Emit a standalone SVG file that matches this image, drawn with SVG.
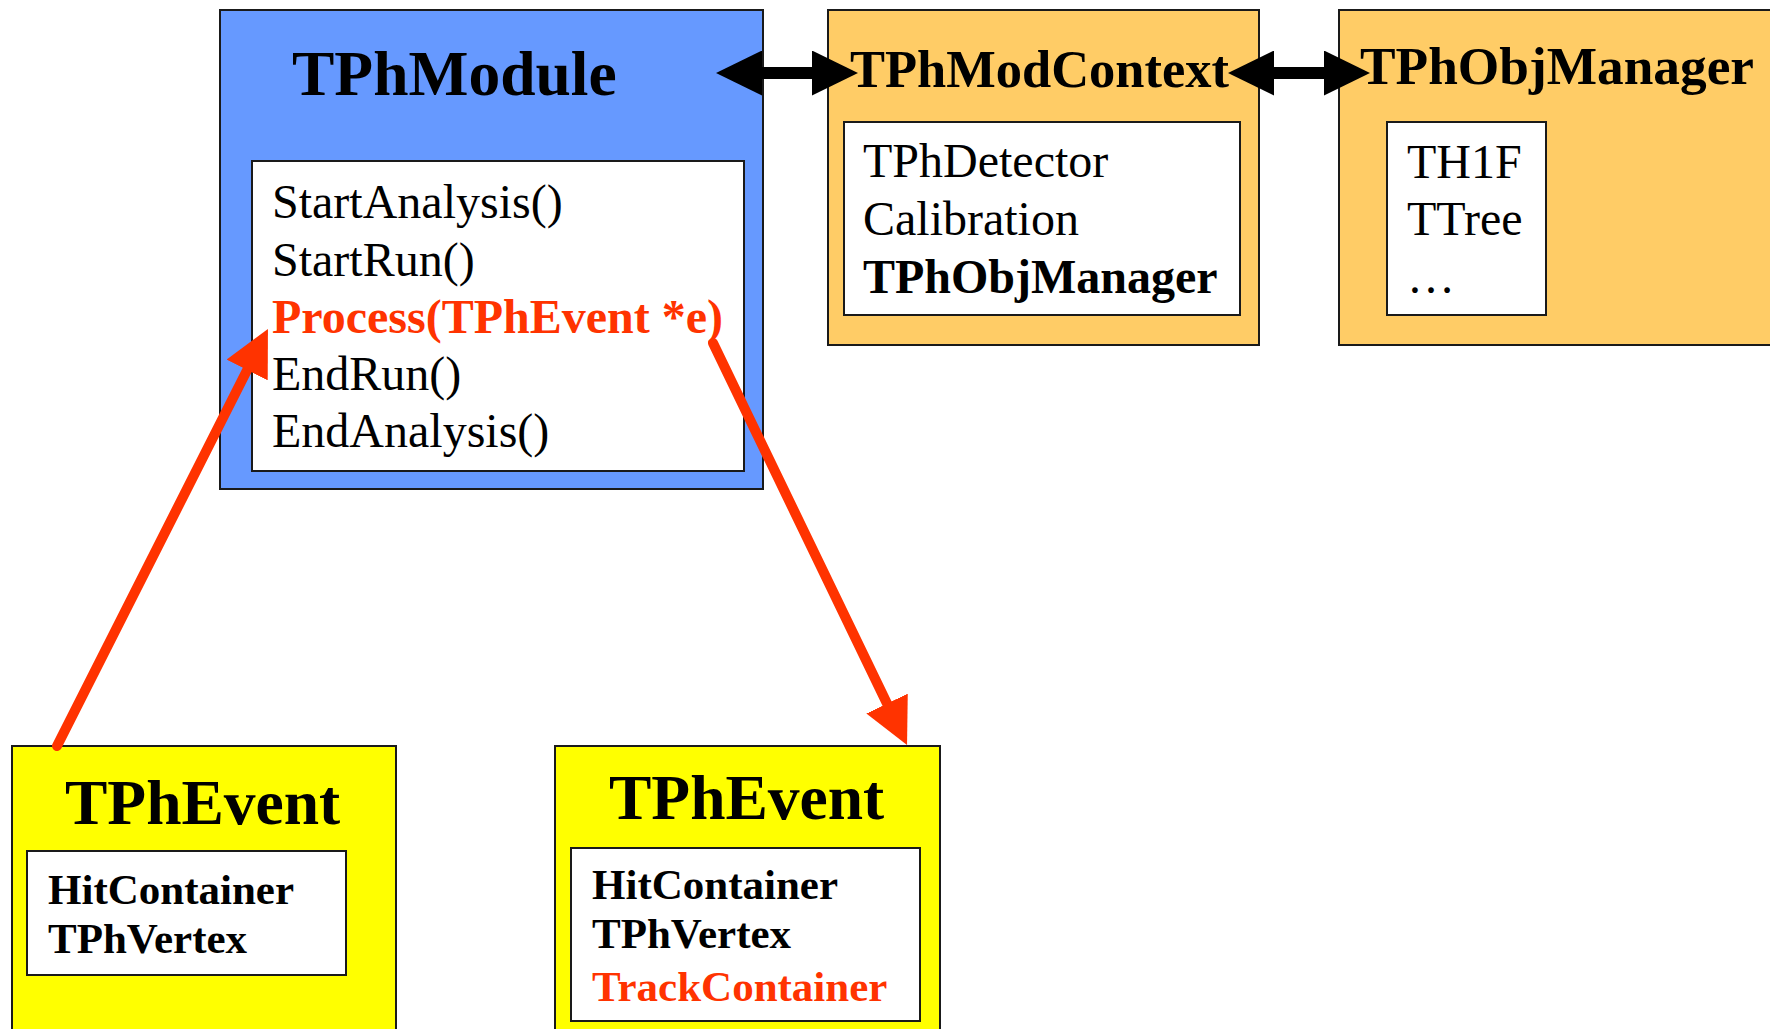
<svg xmlns="http://www.w3.org/2000/svg" width="1770" height="1029" viewBox="0 0 1770 1029">
<style>
  .box { stroke: #1a1a1a; stroke-width: 2; }
  .blue { fill: #6699FF; }
  .orange { fill: #FFCC66; }
  .yellow { fill: #FFFF00; }
  .white { fill: #FFFFFF; }
  text { font-family: "Liberation Serif", "Times New Roman", serif; fill: #000; }
  .title { font-weight: bold; }
  .t63 { font-size: 63.5px; }
  .t53 { font-size: 53px; }
  .m47 { font-size: 48px; }
  .b42 { font-size: 43px; font-weight: bold; }
  .bold { font-weight: bold; }
  .red { fill: #FF3300; }
  .blk { stroke: #000; stroke-width: 12; fill: none; }
  .rarr { stroke: #FF3300; stroke-width: 10; stroke-linecap: round; fill: none; }
</style>
<defs>
  <marker id="headBlack" markerUnits="userSpaceOnUse" viewBox="0 0 46 45" markerWidth="46" markerHeight="45" refX="6" refY="22.5" orient="auto-start-reverse">
    <path d="M0,0 L46,22.5 L0,45 Z" fill="#000"/>
  </marker>
  <marker id="headRed" markerUnits="userSpaceOnUse" viewBox="0 0 46 46" markerWidth="46" markerHeight="46" refX="16" refY="23" orient="auto">
    <path d="M0,0 L46,23 L0,46 Z" fill="#FF3300"/>
  </marker>
</defs>

<g id="TPhModule">
  <rect class="box blue" x="220" y="10" width="543" height="479"/>
  <text class="title t63" x="292" y="95">TPhModule</text>
  <rect class="box white" x="252" y="161" width="492" height="310"/>
  <text class="m47" x="272" y="218">StartAnalysis()</text>
  <text class="m47" x="272" y="276">StartRun()</text>
  <text class="m47 bold red" x="272" y="333">Process(TPhEvent *e)</text>
  <text class="m47" x="272" y="390">EndRun()</text>
  <text class="m47" x="272" y="447">EndAnalysis()</text>
</g>

<g id="TPhModContext">
  <rect class="box orange" x="828" y="10" width="431" height="335"/>
  <text class="title t53" x="850" y="87" textLength="379" lengthAdjust="spacingAndGlyphs">TPhModContext</text>
  <rect class="box white" x="844" y="122" width="396" height="193"/>
  <text class="m47" x="863" y="177">TPhDetector</text>
  <text class="m47" x="863" y="235">Calibration</text>
  <text class="m47 bold" x="863" y="293">TPhObjManager</text>
</g>

<g id="TPhObjManager">
  <rect class="box orange" x="1339" y="10" width="460" height="335"/>
  <text class="title t53" x="1360" y="84" textLength="394" lengthAdjust="spacingAndGlyphs">TPhObjManager</text>
  <rect class="box white" x="1387" y="122" width="159" height="193"/>
  <text class="m47" x="1407" y="178">TH1F</text>
  <text class="m47" x="1407" y="235">TTree</text>
  <text class="m47" x="1407" y="293">…</text>
</g>

<g id="TPhEvent1">
  <rect class="box yellow" x="12" y="746" width="384" height="300"/>
  <text class="title t63" x="65" y="824">TPhEvent</text>
  <rect class="box white" x="27" y="851" width="319" height="124"/>
  <text class="b42" x="48" y="904">HitContainer</text>
  <text class="b42" x="48" y="953">TPhVertex</text>
</g>

<g id="TPhEvent2">
  <rect class="box yellow" x="555" y="746" width="385" height="300"/>
  <text class="title t63" x="609" y="819">TPhEvent</text>
  <rect class="box white" x="571" y="848" width="349" height="173"/>
  <text class="b42" x="592" y="899">HitContainer</text>
  <text class="b42" x="592" y="948">TPhVertex</text>
  <text class="b42 red" x="592" y="1001">TrackContainer</text>
</g>

<g id="connectors">
  <line class="blk" x1="756" y1="73" x2="818" y2="73" marker-start="url(#headBlack)" marker-end="url(#headBlack)"/>
  <line class="blk" x1="1268" y1="73" x2="1330" y2="73" marker-start="url(#headBlack)" marker-end="url(#headBlack)"/>
  <line class="rarr" x1="57" y1="746" x2="254.4" y2="355.7" marker-end="url(#headRed)"/>
  <line class="rarr" x1="713" y1="343" x2="894" y2="718" marker-end="url(#headRed)"/>
</g>
</svg>
